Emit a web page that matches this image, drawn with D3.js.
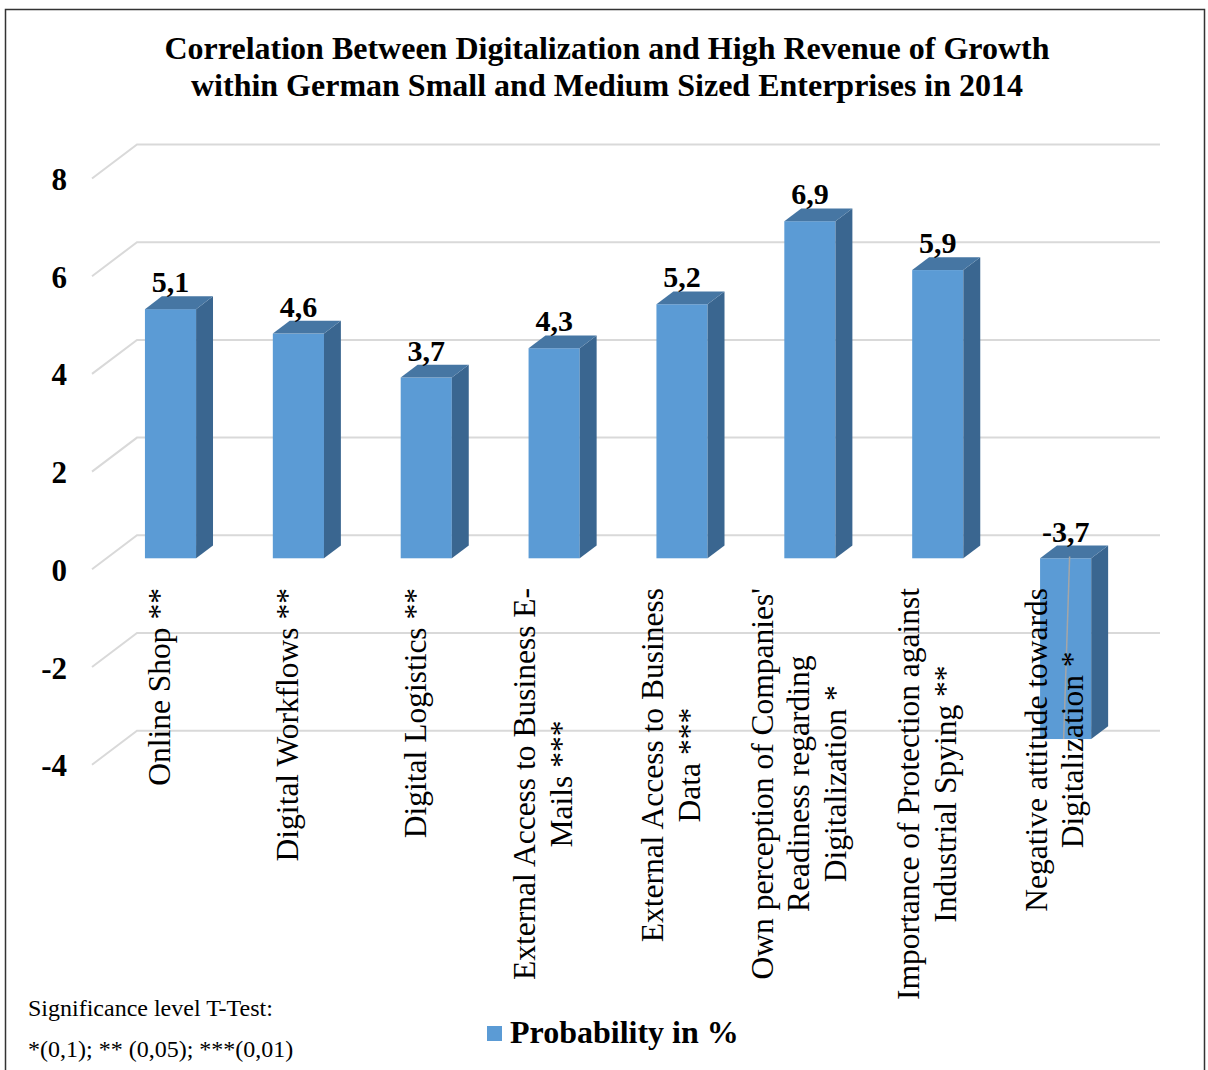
<!DOCTYPE html>
<html><head><meta charset="utf-8">
<script src="https://cdn.jsdelivr.net/npm/d3@7"></script>
<style>body{margin:0;background:#fff}svg{display:block}</style>
</head><body>
<svg id="chart" width="1208" height="1070"></svg>
<script>
const titleLines = ["Correlation Between Digitalization and High Revenue of Growth",
  "within German Small and Medium Sized Enterprises in 2014"];
const categories = [
  "Online Shop **",
  "Digital Workflows **",
  "Digital Logistics **",
  "External Access to Business E-\nMails ***",
  "External Access to Business\nData ***",
  "Own perception of Companies'\nReadiness regarding\nDigitalization *",
  "Importance of Protection against\nIndustrial Spying **",
  "Negative attitude towards\nDigitalization *"
];
const values = [5.1, 4.6, 3.7, 4.3, 5.2, 6.9, 5.9, -3.7];
const yTicks = [-4, -2, 0, 2, 4, 6, 8];
const seriesName = "Probability in %";
const noteLines = ["Significance level T-Test:", "*(0,1); ** (0,05); ***(0,01)"];

const svg = d3.select("#chart");
const FONT = "'Liberation Serif','Times New Roman',serif";
const DX = 45, DY = 34;          // depth offset of the 3D box
const D0 = 0.324, D1 = 0.70;     // bar depth range
const x = d3.scaleBand().domain(d3.range(categories.length)).range([92, 1115]);
const y = d3.scaleLinear().domain([-4, 8]).range([730.7, 144.5]); // back wall
const px = (xf, d) => xf + d * DX;
const py = (v, d) => y(v) + (1 - d) * DY;
const barW = x.bandwidth() * 0.4;

// border
svg.append("rect").attr("x", 5.5).attr("y", 9.5).attr("width", 1199).attr("height", 1075)
  .attr("fill", "none").attr("stroke", "#333").attr("stroke-width", 1.5);

// title
svg.append("g").selectAll("text").data(titleLines).join("text")
  .attr("x", 607).attr("y", (d, i) => 59 + i * 37)
  .attr("text-anchor", "middle").attr("font-family", FONT).attr("font-weight", "bold")
  .attr("font-size", 32).attr("fill", "#000").text(d => d);

// gridlines
const [x0, x1] = x.range();
svg.append("g").selectAll("path").data(yTicks).join("path")
  .attr("d", t => `M${px(x0,0)},${py(t,0)} L${px(x0,1)},${py(t,1)} L${px(x1,1)},${py(t,1)}`)
  .attr("fill", "none").attr("stroke", "#d9d9d9").attr("stroke-width", 2);

// y tick labels
svg.append("g").selectAll("text").data(yTicks).join("text")
  .attr("x", 67).attr("y", t => py(t, 0) + 1).attr("dominant-baseline", "central")
  .attr("text-anchor", "end").attr("font-family", FONT).attr("font-weight", "bold")
  .attr("font-size", 31).text(d => d);

// bars
const dd = D1 - D0;
const bars = svg.append("g").selectAll("g").data(values).join("g");
bars.each(function (v, i) {
  const g = d3.select(this);
  const bx0 = px(x(i) + x.bandwidth() * 0.3, D0), bx1 = bx0 + barW;
  const top = Math.max(v, 0), bot = Math.min(v, 0);
  const yt = py(top, D0), yb = py(bot, D0);
  g.append("rect").attr("x", bx0).attr("y", yt).attr("width", barW).attr("height", yb - yt)
    .attr("fill", "#5b9bd5");
  g.append("path").attr("d",
    `M${bx1},${yt} L${bx1 + dd*DX},${yt - dd*DY} L${bx1 + dd*DX},${yb - dd*DY} L${bx1},${yb} Z`)
    .attr("fill", "#3a6690");
  g.append("path").attr("d",
    `M${bx0},${yt} L${bx0 + dd*DX},${yt - dd*DY} L${bx1 + dd*DX},${yt - dd*DY} L${bx1},${yt} Z`)
    .attr("fill", "#4676a3");
});

// leader line on negative bar
values.forEach((v, i) => {
  if (v < 0) {
    const cx = px(x(i) + x.bandwidth() * 0.5, D0);
    svg.append("line").attr("x1", cx + 4).attr("y1", py(0, D1) + 11)
      .attr("x2", cx - 2).attr("y2", py(v, D0))
      .attr("stroke", "#a6a6a6").attr("stroke-width", 1.5);
  }
});

// data labels
const fmt = v => d3.format(".1f")(v).replace(".", ",").replace("\u2212", "-");
svg.append("g").selectAll("text").data(values).join("text")
  .attr("x", (v, i) => px(x(i) + x.bandwidth() * 0.5, D0))
  .attr("y", v => py(Math.max(v, 0), D1) - 4)
  .attr("text-anchor", "middle").attr("font-family", FONT).attr("font-weight", "bold")
  .attr("font-size", 30).text(fmt);

// category labels (rotated)
const LH = 36.5, FS = 31.5, TOPY = 588;
const cat = svg.append("g");
categories.forEach((c, i) => {
  const lines = c.split("\n");
  const cx = px(x(i) + x.bandwidth() * 0.5, D0) - 11;
  const g = cat.append("g");
  const texts = g.selectAll("text").data(lines).join("text")
    .attr("x", 0).attr("y", (d, k) => (k - (lines.length - 1) / 2) * LH)
    .attr("dominant-baseline", "central").attr("text-anchor", "middle")
    .attr("font-family", FONT).attr("font-size", FS).text(d => d);
  let maxLen = 0;
  texts.each(function () { maxLen = Math.max(maxLen, this.getComputedTextLength()); });
  g.attr("transform", `translate(${cx},${TOPY + maxLen / 2}) rotate(-90)`);
});

// significance note
svg.append("g").selectAll("text").data(noteLines).join("text")
  .attr("x", 28).attr("y", (d, i) => 1016 + i * 41)
  .attr("font-family", FONT).attr("font-size", 24).text(d => d);

// legend
svg.append("rect").attr("x", 487).attr("y", 1026).attr("width", 15).attr("height", 15).attr("fill", "#5b9bd5");
svg.append("text").attr("x", 510).attr("y", 1043).attr("font-family", FONT).attr("font-weight", "bold")
  .attr("font-size", 32).text(seriesName);
</script>
</body></html>
